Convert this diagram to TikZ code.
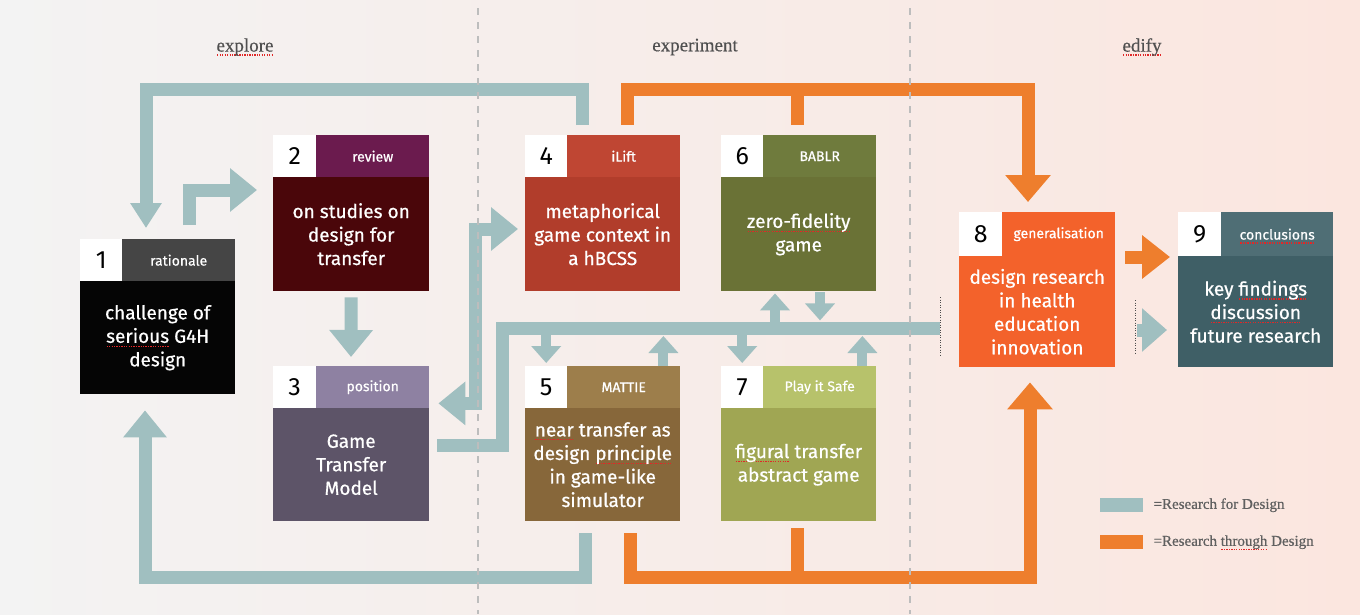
\documentclass[tikz,border=0pt]{standalone}
\usepackage{fontspec}
\setmainfont{Liberation Serif}
\newfontfamily\boxfont{Fira Sans}[FakeBold=0.6]
\newfontfamily\numfont{Fira Sans}
\newfontfamily\phasefont{Liberation Serif}[FakeBold=0.5]
\usetikzlibrary{arrows.meta,calc}
\definecolor{bgl}{HTML}{F3F3F3}
\definecolor{bgr}{HTML}{FBE6DF}
\definecolor{rfdc}{HTML}{A0BFC0}
\definecolor{rtdc}{HTML}{EE7E2D}
\definecolor{splred}{HTML}{E02828}
\definecolor{phgray}{HTML}{505050}
\definecolor{leggray}{HTML}{606060}
\definecolor{divgray}{HTML}{BDBDBD}
\definecolor{c1t}{HTML}{454545}\definecolor{c1b}{HTML}{050505}
\definecolor{c2t}{HTML}{6B1B4E}\definecolor{c2b}{HTML}{4A060A}
\definecolor{c3t}{HTML}{8E81A2}\definecolor{c3b}{HTML}{5D5468}
\definecolor{c4t}{HTML}{BF4633}\definecolor{c4b}{HTML}{B13D2B}
\definecolor{c5t}{HTML}{9D7E4B}\definecolor{c5b}{HTML}{87673A}
\definecolor{c6t}{HTML}{6F7B3D}\definecolor{c6b}{HTML}{6A7236}
\definecolor{c7t}{HTML}{B7C26B}\definecolor{c7b}{HTML}{A0A653}
\definecolor{c8}{HTML}{F3622B}
\definecolor{c9t}{HTML}{4F6E75}\definecolor{c9b}{HTML}{3F5F66}
\newsavebox\splbox
\newcommand\spl[1]{\leavevmode\sbox\splbox{#1}\rlap{\raisebox{-4pt}[0pt][0pt]{\textcolor{splred}{\hbox to \wd\splbox{\xleaders\hbox to 2.4pt{\hss\rule{1.3pt}{1.2pt}\hss}\hfill}}}}\usebox\splbox}
\tikzset{
  numsq/.style={fill=white, minimum width=42pt, minimum height=42pt, inner sep=0pt, anchor=north west, font=\numfont\fontsize{25}{25}\selectfont, text=black},
  tabbox/.style={minimum width=113pt, minimum height=42pt, inner sep=0pt, anchor=north west, font=\boxfont\fontsize{14}{14}\selectfont, text=white},
  bodybox/.style={minimum width=155pt, minimum height=113pt, inner sep=0pt, anchor=north west, align=center, font=\boxfont\fontsize{19}{23.5}\selectfont, text=white},
  phase/.style={font=\phasefont\fontsize{19}{19}\selectfont, text=phgray},
  legsw/.style={minimum width=43pt, minimum height=14pt, inner sep=0pt, anchor=north west},
  legtxt/.style={font=\phasefont\fontsize{15}{15}\selectfont, text=leggray, anchor=west, inner sep=0pt},
  rfd/.style={draw=rfdc, line width=13pt},
  rfds/.style={draw=rfdc, line width=10pt},
  rtd/.style={draw=rtdc, line width=13pt},
  divider/.style={draw=divgray, line width=2pt, dash pattern=on 7pt off 7pt},
  dotmark/.style={draw=black!70, line width=1pt, dash pattern=on 1pt off 1.5pt},
  bigtip/.tip={Triangle[length=27pt,width=42pt]},
  smalltip/.tip={Triangle[length=17pt,width=29pt]},
}
\begin{document}
\begin{tikzpicture}[x=1pt,y=-1pt]
\useasboundingbox (0,0) rectangle (1360,614);
\fill[left color=bgl, right color=bgr] (0,0) rectangle (1360,614);

% phase labels
\node[phase] (ph1) at (245,47) {\spl{explore}};
\node[phase] (ph2) at (695,47) {experiment};
\node[phase] (ph3) at (1142,47) {\spl{edify}};

% box 1
\node[numsq] (n1) at (80,239) {1};
\node[tabbox, fill=c1t] (t1) at (122,239) {rationale};
\node[bodybox, fill=c1b] (b1) at (80,281) {challenge of\\\spl{serious} G4H\\design};
% box 2
\node[numsq, minimum width=43pt] (n2) at (273,135) {2};
\node[tabbox, fill=c2t] (t2) at (316,135) {review};
\node[bodybox, fill=c2b, minimum width=156pt, minimum height=114pt] (b2) at (273,177) {on studies on\\design for\\transfer};
% box 3
\node[numsq, minimum width=43pt] (n3) at (273,366) {3};
\node[tabbox, fill=c3t] (t3) at (316,366) {position};
\node[bodybox, fill=c3b, minimum width=156pt] (b3) at (273,408) {Game\\Transfer\\Model};
% box 4
\node[numsq] (n4) at (525,135) {4};
\node[tabbox, fill=c4t] (t4) at (567,135) {iLift};
\node[bodybox, fill=c4b, minimum height=114pt] (b4) at (525,177) {metaphorical\\game context in\\a hBCSS};
% box 6
\node[numsq] (n6) at (721,135) {6};
\node[tabbox, fill=c6t] (t6) at (763,135) {BABLR};
\node[bodybox, fill=c6b, minimum height=114pt] (b6) at (721,177) {\spl{zero-fidelity}\\game};
% box 5
\node[numsq] (n5) at (525,366) {5};
\node[tabbox, fill=c5t] (t5) at (567,366) {MATTIE};
\node[bodybox, fill=c5b] (b5) at (525,408) {\spl{near} transfer as\\design \spl{principle}\\in game-like\\simulator};
% box 7
\node[numsq] (n7) at (721,366) {7};
\node[tabbox, fill=c7t] (t7) at (763,366) {Play it Safe};
\node[bodybox, fill=c7b] (b7) at (721,408) {\spl{figural} transfer\\abstract game};
% box 8
\node[numsq, minimum width=43pt, minimum height=44pt] (n8) at (959,212) {8};
\node[tabbox, fill=c8, minimum height=44pt] (t8) at (1002,212) {generalisation};
\node[bodybox, fill=c8, minimum width=156pt, minimum height=111pt] (b8) at (959,256) {design research\\in health\\education\\innovation};
% box 9
\node[numsq, minimum width=43pt, minimum height=44pt] (n9) at (1178,212) {9};
\node[tabbox, fill=c9t, minimum width=112pt, minimum height=44pt] (t9) at (1221,212) {\spl{conclusions}};
\node[bodybox, fill=c9b, minimum width=155pt, minimum height=111pt] (b9) at (1178,256) {key \spl{findings}\\\spl{discussion}\\future research};

\coordinate (busR) at ($(b8.north west)+(-19,72)$);

% research for design connectors
\draw[rfd,-{Triangle[length=25pt,width=30pt]}] ($(t4.north west)+(15,-10)$) -- ++(0,-36) -| ($(t1.north west)+(24,-11)$);
\draw[rfd,-bigtip] ($(t1.north west)+(67,-14)$) |- ($(b2.north west)+(-16,13)$);
\draw[rfd,-bigtip] ($(b2.south)+(0,6)$) -- ($(t3.north west)+(35,-9)$);
\draw[rfd,-bigtip] ($(b5.south west)+(60,12)$) -- ++(0,44) -| ($(b1.south west)+(65,16)$);
\draw[rfd] ($(b3.north east)+(8,37)$) -| ($(b3.north east)+(73,-80)$) -- (busR);
\draw[rfd,bigtip-bigtip] ($(t3.south east)+(9,-5)$) -- ++(37,0) |- ($(b4.north west)+(-7,52)$);
\draw[rfds,-smalltip] (n5.north |- busR) -- ($(n5.north)+(0,-3)$);
\draw[rfds,-smalltip] ($(t5.north east)+(-17,0)$) -- ($(t5.north east)+(-17,-30)$);
\draw[rfds,-smalltip] (n7.north |- busR) -- ($(n7.north)+(0,-3)$);
\draw[rfds,-smalltip] ($(t7.north east)+(-14,0)$) -- ($(t7.north east)+(-14,-30)$);
\draw[rfds,-smalltip] ($(b6.south west)+(54,31)$) -- ($(b6.south west)+(54,2)$);
\draw[rfds,-smalltip] ($(b6.south west)+(99,1)$) -- ($(b6.south west)+(99,29)$);
\draw[rfd,-{Triangle[length=25pt,width=42pt]}] ($(b9.north west)+(-41,74)$) -- ($(b9.north west)+(-11,74)$);

% research through design connectors
\draw[rtd,-{Triangle[length=27pt,width=44pt]}] ($(t4.north west)+(60,-10)$) -- ++(0,-36) -| ($(t8.north west)+(26,-10)$);
\draw[rtd] ($(t6.north west)+(34,-10)$) -- ++(0,-36);
\draw[rtd,-{Triangle[length=27pt,width=44pt]}] ($(b5.south west)+(105,12)$) -- ++(0,44) -| ($(b8.south west)+(71,15)$);
\draw[rtd] ($(b7.south west)+(76,7)$) -- ++(0,49);
\draw[rtd,-{Triangle[length=28pt,width=42pt]}] ($(b8.north east)+(10,1)$) -- ($(b9.north west)+(-8,1)$);

% dotted marks
\draw[dotmark] ($(busR)+(0,-31)$) -- ($(busR)+(0,29)$);
\draw[dotmark] ($(b9.north west)+(-43,44)$) -- ($(b9.north west)+(-43,99)$);

% dividers
\draw[divider] (478,8) -- (478,614);
\draw[divider] (910,8) -- (910,614);

% legend
\node[legsw, fill=rfdc] (lg1) at (1100,498) {};
\node[legtxt] (lt1) at ($(lg1.east)+(10,0)$) {=Research for Design};
\node[legsw, fill=rtdc] (lg2) at (1100,535) {};
\node[legtxt] (lt2) at ($(lg2.east)+(10,0)$) {=Research \spl{through} Design};
\end{tikzpicture}
\end{document}
